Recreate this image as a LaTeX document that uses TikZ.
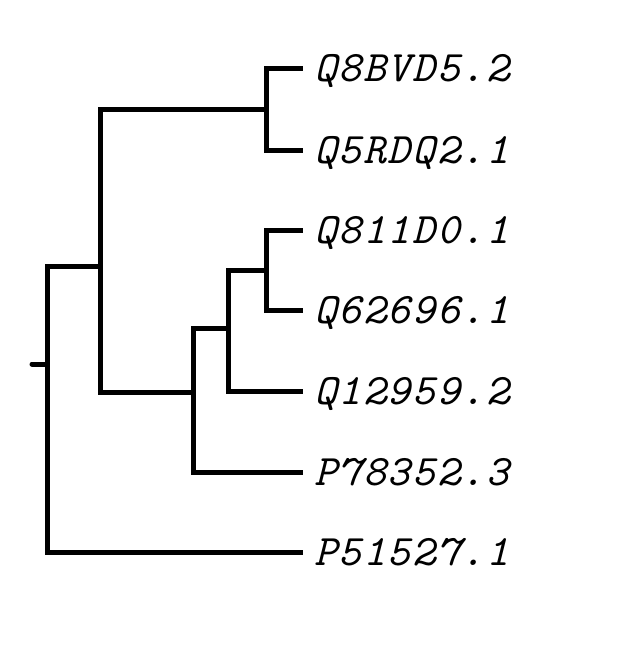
\documentclass[tikz,border=0pt]{standalone}
\usepackage{fontspec}
\setmonofont{lmmono10-regular.otf}[ItalicFont=lmmono10-italic.otf,LetterSpace=4]
\usetikzlibrary{positioning}

\begin{document}
\begin{tikzpicture}[x=1pt,y=-1pt,
    branch/.style={line width=5pt},
    leaf/.style={anchor=west,inner xsep=11pt,inner ysep=0pt,
      text height=26.5pt,text depth=0pt,
      font=\fontsize{43.5}{44}\selectfont\ttfamily\itshape}]
  \useasboundingbox (0,0) rectangle (638,645);
  % leaves
  \node [leaf] (q8bvd) at (303,68) {Q8BVD5.2};
  \node [leaf] (q5rdq) at (303,150) {Q5RDQ2.1};
  \node [leaf] (q811d) at (303,230) {Q811D0.1};
  \node [leaf] (q62696) at (303,310) {Q62696.1};
  \node [leaf] (q12959) at (303,391) {Q12959.2};
  \node [leaf] (p78352) at (303,472) {P78352.3};
  \node [leaf] (p51527) at (303,552) {P51527.1};
  % inner nodes
  \coordinate (base) at (32,364);
  \coordinate (root) at (47,364);
  \coordinate (a) at (100.5,266);
  \coordinate (b) at (266.5,109);
  \coordinate (c) at (193,392);
  \coordinate (d) at (228.5,328);
  \coordinate (e) at (266.5,270);
  % branches
  \draw [branch,line cap=round] (base) -- (root);
  \draw [branch] (root) |- (a);
  \draw [branch] (root) |- (p51527);
  \draw [branch] (a) |- (b);
  \draw [branch] (a) |- (c);
  \draw [branch] (b) |- (q8bvd);
  \draw [branch] (b) |- (q5rdq);
  \draw [branch] (c) |- (d);
  \draw [branch] (c) |- (p78352);
  \draw [branch] (d) |- (e);
  \draw [branch] (d) |- (q12959);
  \draw [branch] (e) |- (q811d);
  \draw [branch] (e) |- (q62696);
\end{tikzpicture}
\end{document}
